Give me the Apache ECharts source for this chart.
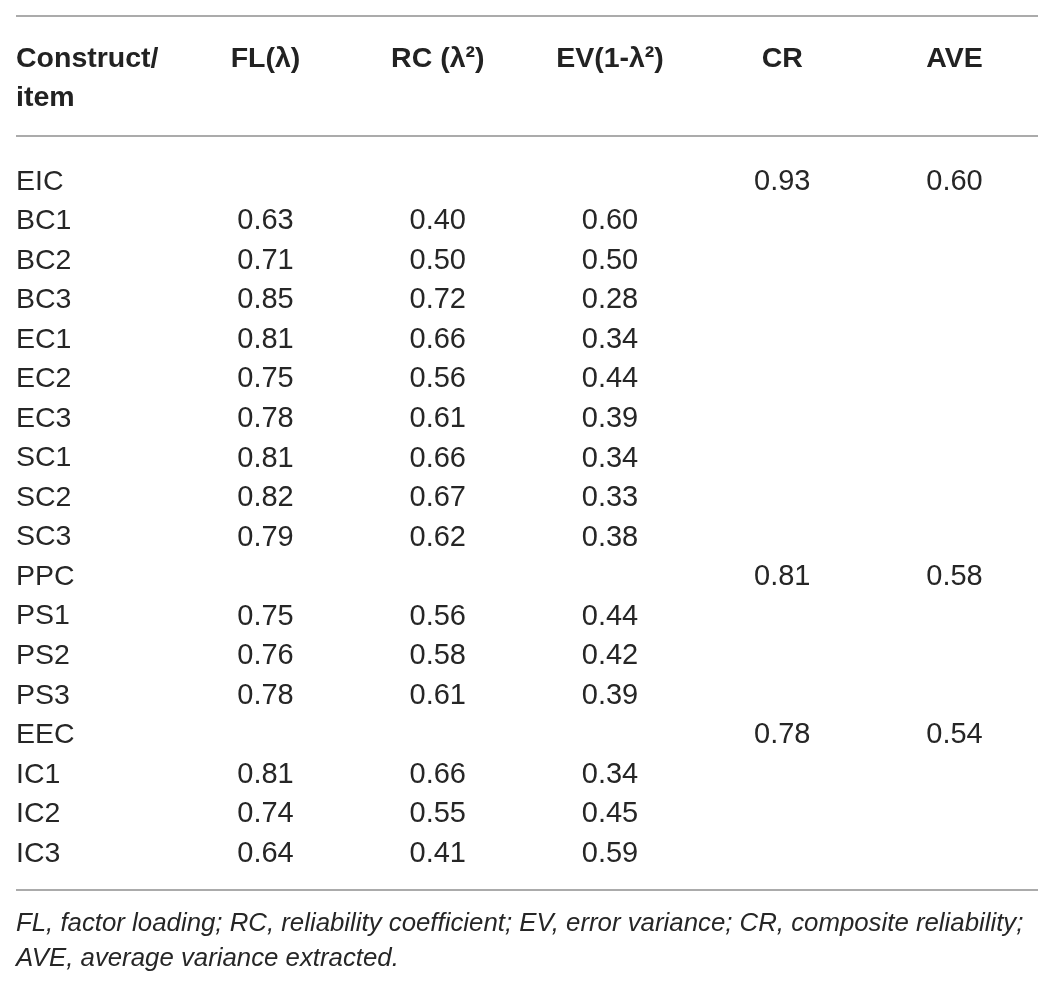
<!DOCTYPE html>
<html>
<head>
<meta charset="utf-8">
<script src="https://cdn.jsdelivr.net/npm/echarts@6/dist/echarts.min.js"></script>
<style>
html,body{margin:0;padding:0;background:#fff;}
#chart{width:1058px;height:990px;}
</style>
</head>
<body>
<div id="chart"></div>
<script>
var rows = ['EIC','BC1','BC2','BC3','EC1','EC2','EC3','SC1','SC2','SC3','PPC','PS1','PS2','PS3','EEC','IC1','IC2','IC3'];
var columns = ['FL(λ)','RC (λ²)','EV(1-λ²)','CR','AVE'];
var firstHeader = 'Construct/\nitem';
var FL  = [null,0.63,0.71,0.85,0.81,0.75,0.78,0.81,0.82,0.79,null,0.75,0.76,0.78,null,0.81,0.74,0.64];
var RC  = [null,0.40,0.50,0.72,0.66,0.56,0.61,0.66,0.67,0.62,null,0.56,0.58,0.61,null,0.66,0.55,0.41];
var EV  = [null,0.60,0.50,0.28,0.34,0.44,0.39,0.34,0.33,0.38,null,0.44,0.42,0.39,null,0.34,0.45,0.59];
var CR  = [0.93,null,null,null,null,null,null,null,null,null,0.81,null,null,null,0.78,null,null,null];
var AVE = [0.60,null,null,null,null,null,null,null,null,null,0.58,null,null,null,0.54,null,null,null];
var footnote = 'FL, factor loading; RC, reliability coefficient; EV, error variance; CR, composite reliability;\nAVE, average variance extracted.';

var FONT = '"Liberation Sans", Arial, Helvetica, sans-serif';
var colValues = [FL, RC, EV, CR, AVE];

function buildData(colIdx) {
  var vals = colValues[colIdx];
  var out = [];
  rows.forEach(function (r, i) {
    if (vals[i] != null) out.push([columns[colIdx], r, vals[i]]);
  });
  return out;
}

var series = columns.map(function (c, ci) {
  return {
    type: 'scatter',
    name: c,
    symbolSize: 0,
    silent: true,
    itemStyle: { opacity: 1 },
    data: buildData(ci),
    label: {
      show: true,
      position: 'inside',
      fontFamily: FONT,
      fontSize: 29,
      color: '#262626',
      formatter: function (p) { return p.value[2].toFixed(2); }
    }
  };
});

var chart = echarts.init(document.getElementById('chart'));
chart.setOption({
  animation: false,
  backgroundColor: '#fff',
  grid: { left: 179.4, right: 17.4, top: 162, bottom: 116.4 },
  xAxis: {
    type: 'category',
    position: 'top',
    data: columns,
    axisLine: { show: false },
    axisTick: { show: false },
    splitLine: { show: false },
    axisLabel: {
      interval: 0,
      margin: 122,
      verticalAlign: 'top',
      lineHeight: 39,
      fontFamily: FONT,
      fontSize: 28.5,
      fontWeight: 'bold',
      color: '#222'
    }
  },
  yAxis: {
    type: 'category',
    inverse: true,
    data: rows,
    offset: 163.4,
    name: firstHeader,
    nameLocation: 'start',
    nameGap: 122,
    nameTextStyle: {
      align: 'left',
      verticalAlign: 'top',
      lineHeight: 39,
      fontFamily: FONT,
      fontSize: 28.5,
      fontWeight: 'bold',
      color: '#222'
    },
    axisLine: { show: false },
    axisTick: { show: false },
    splitLine: { show: false },
    axisLabel: {
      inside: true,
      margin: 0,
      align: 'left',
      interval: 0,
      fontFamily: FONT,
      fontSize: 28.5,
      color: '#262626'
    }
  },
  title: {
    text: footnote,
    left: 16,
    top: 906,
    padding: 0,
    textStyle: {
      fontFamily: FONT,
      fontStyle: 'italic',
      fontWeight: 'normal',
      fontSize: 25.8,
      lineHeight: 35,
      color: '#262626'
    }
  },
  graphic: [
    { type: 'line', shape: { x1: 16, y1: 16, x2: 1038, y2: 16 }, style: { stroke: '#8f8f8f', lineWidth: 1.5 } },
    { type: 'line', shape: { x1: 16, y1: 136, x2: 1038, y2: 136 }, style: { stroke: '#8f8f8f', lineWidth: 1.5 } },
    { type: 'line', shape: { x1: 16, y1: 890, x2: 1038, y2: 890 }, style: { stroke: '#8f8f8f', lineWidth: 1.5 } }
  ],
  series: series
});
</script>
</body>
</html>
